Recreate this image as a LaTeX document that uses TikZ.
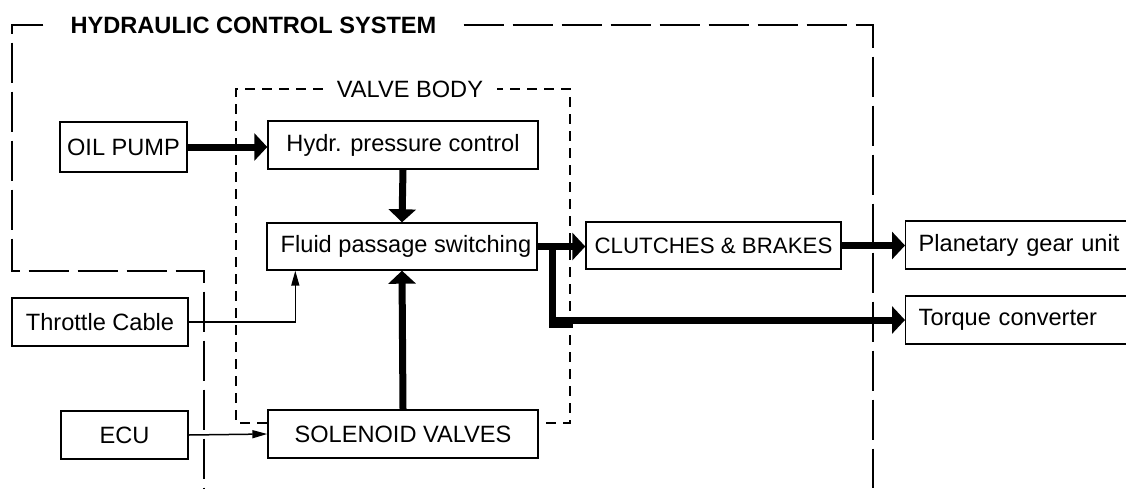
\documentclass[tikz,border=0pt]{standalone}
\usepackage{fontspec}
\setmainfont{Liberation Sans}
\usetikzlibrary{arrows.meta,calc}
\begin{document}
\begin{tikzpicture}[x=1pt,y=-1pt,
  every node/.style={font=\fontsize{23.6}{27}\selectfont},
  box/.style={draw,line width=1.4pt,fill=white,inner sep=0pt},
  lbox/.style={box,anchor=west,align=left,inner xsep=13pt},
  outerline/.style={line width=1.4pt,dash pattern=on 40pt off 9pt},
  vbline/.style={line width=1.4pt,dash pattern=on 10pt off 7pt},
  fat/.style={line width=7pt,line join=miter,-{Triangle[length=13pt,width=27pt]}},
  fatline/.style={line width=7pt,line join=miter},
  slim/.style={line width=1.5pt,-{Triangle[length=15pt,width=8pt]}}
]
\useasboundingbox (0,0) rectangle (1126,488);
% outer boundary
\node[font=\fontsize{23.6}{27}\selectfont\bfseries,inner xsep=27pt,inner ysep=2pt] (ttl) at (253.5,25) {HYDRAULIC CONTROL SYSTEM};
\draw[outerline] (ttl.west |- 0,25) -- (12,25) -- (12,271) -- (204,271) -- (204,488);
\draw[outerline] (ttl.east |- 0,25) -- (873,25) -- (873,488);
% valve body
\node[inner xsep=14pt,inner ysep=2pt] (vbt) at (410,89) {VALVE BODY};
\draw[vbline] (vbt.west |- 0,89) -- (236,89) -- (236,423) -- (570,423) -- (570,89) -- (vbt.east |- 0,89);
% boxes
\node[box,minimum width=127pt,minimum height=50pt] (oil) at (123.5,147) {OIL PUMP};
\node[box,minimum width=270pt,minimum height=48pt] (hydr) at (403,145) {Hydr. pressure control};
\node[box,minimum width=270pt,minimum height=47pt] (fluid) at (402,246.5) {\hspace*{8pt}Fluid passage switching};
\node[box,minimum width=255pt,minimum height=47pt,font=\fontsize{22.3}{27}\selectfont] (cb) at (713.5,245.5) {CLUTCHES \& BRAKES};
\node[lbox,text width=209pt,minimum height=48pt] (pgu) at (905,245) {Planetary gear unit};
\node[lbox,text width=209pt,minimum height=48pt] (tc) at (905,320) {Torque converter};
\node[box,minimum width=176pt,minimum height=48pt] (thr) at (100,322) {Throttle Cable};
\node[box,minimum width=127pt,minimum height=48pt] (ecu) at (124.5,435) {ECU};
\node[box,minimum width=270pt,minimum height=48pt] (sol) at (403,434) {SOLENOID VALVES};
% connectors
\draw[fat] (oil.east) -- (oil.east -| hydr.west);
\draw[fat] (hydr.south) -- (fluid.north);
\draw[fat] (sol.north) -- (fluid.south);
\draw[fat] (fluid.east) -- (fluid.east -| cb.west);
\coordinate (br) at ([xshift=15pt,yshift=-3.5pt]fluid.east);
\draw[fatline] (br) -- ++(0,74) -- ++(20,0);
\draw[fat] ([yshift=3.5pt]br) |- (tc.west);
\draw[fat] (cb.east) -- (cb.east -| pgu.west);
\draw[slim] (thr.east) -| ([xshift=29pt]fluid.south west);
\draw[slim] (ecu.east) -- (sol.west);
\end{tikzpicture}
\end{document}
